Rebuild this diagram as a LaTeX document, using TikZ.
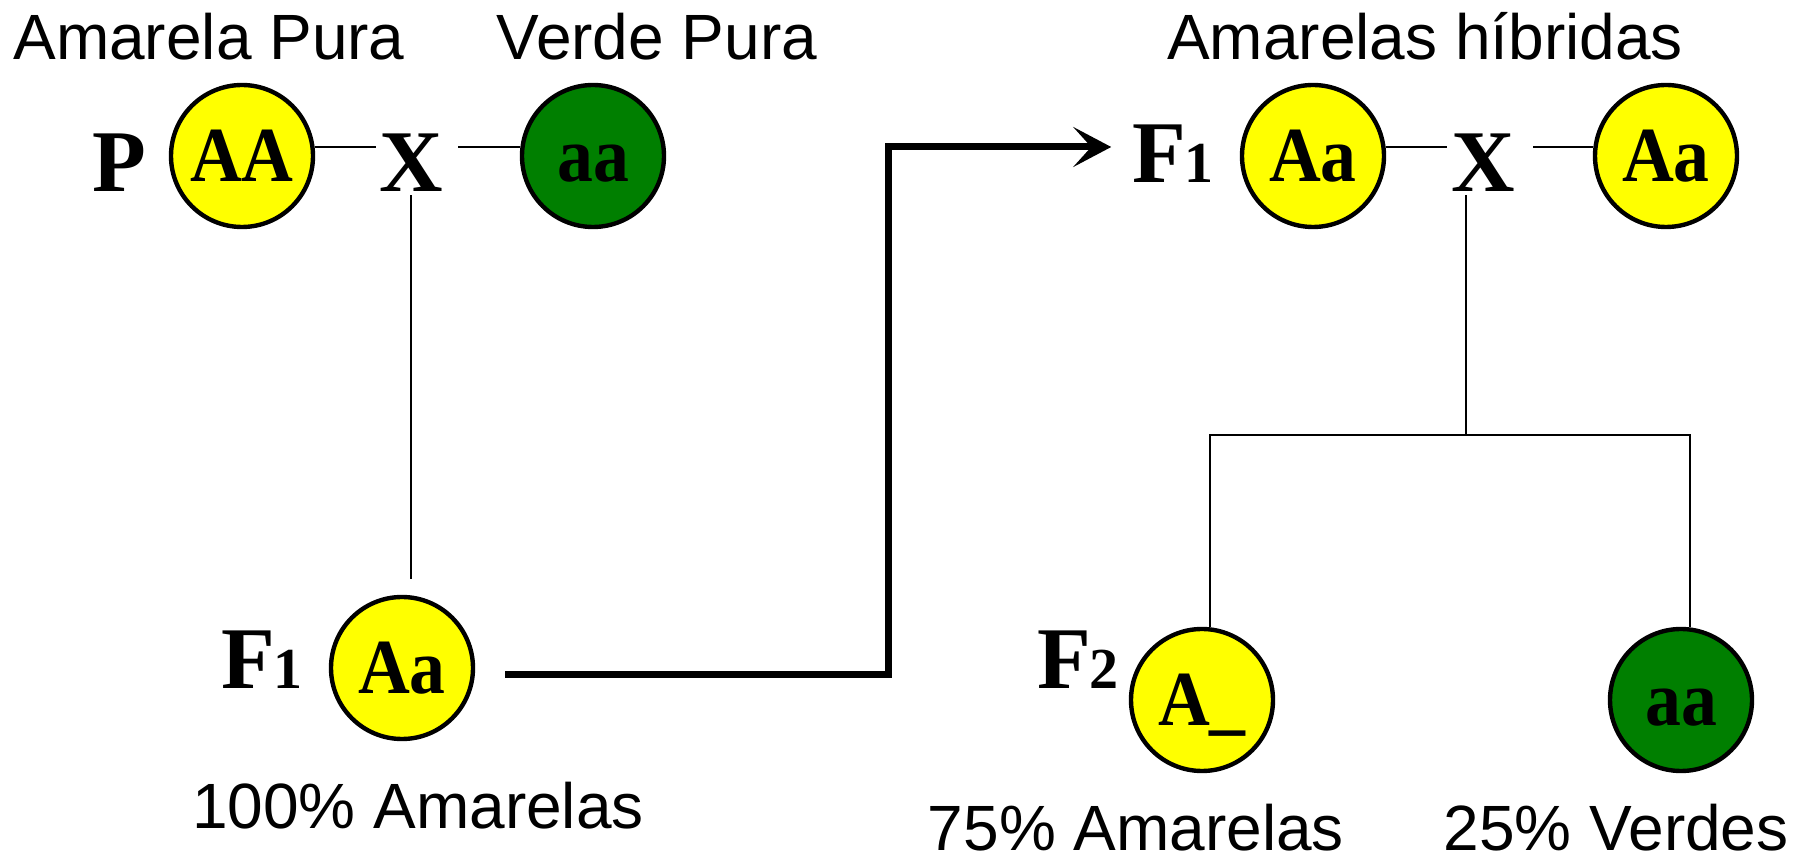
\documentclass[tikz,border=0pt]{standalone}
\usepackage{fontspec}
\setmainfont{Liberation Serif}
\setsansfont{Liberation Sans}
\usetikzlibrary{arrows.meta,calc}
\definecolor{pyellow}{HTML}{FFFF00}
\definecolor{pgreen}{HTML}{007F00}
\newcommand{\Fgen}[1]{F\kern-1pt{\fontsize{29}{29}\selectfont #1}}
\newcommand{\geno}[1]{\scalebox{0.92}[1]{#1}}
\tikzset{
  pea/.style={circle, draw=black, line width=2.2pt, minimum size=71pt, inner sep=0pt,
    font=\fontsize{39}{39}\selectfont\bfseries, text height=25.8pt, text depth=0pt},
  ypea/.style={pea, fill=pyellow},
  gpea/.style={pea, fill=pgreen},
  gen/.style={font=\fontsize{44}{44}\selectfont\bfseries, inner sep=0pt, anchor=base},
  caption/.style={font=\sffamily\fontsize{32}{32}\selectfont, inner sep=0pt, anchor=base},
  linkline/.style={line width=1pt},
  flow/.style={line width=3.5pt, -{Stealth[length=19pt,width=20pt,inset=9pt]}}
}
\begin{document}
\begin{tikzpicture}[x=0.5pt,y=-0.5pt]
\useasboundingbox (0,0) rectangle (1801,865);
% captions
\node[caption] (capAP) at (209,60) {Amarela Pura};
\node[caption] (capVP) at (657,60) {Verde Pura};
\node[caption] (capAH) at (1425,60) {Amarelas híbridas};
\node[caption] (cap100) at (418,829) {100\% Amarelas};
\node[caption] (cap75) at (1136,851) {75\% Amarelas};
\node[caption] (cap25) at (1616,851) {25\% Verdes};
% generation labels
\node[gen] (P) at (119,192) {P};
\node[gen] (X1) at (411,192) {X};
\node[gen] (F1a) at (262,689) {\Fgen{1}};
\node[gen] (F1b) at (1173,183) {\Fgen{1}};
\node[gen] (X2) at (1483,192) {X};
\node[gen] (F2) at (1078,689) {\Fgen{2}};
% peas
\node[ypea] (AA) at (242,156) {\geno{AA}};
\node[gpea] (aa1) at (593,156) {\geno{aa}};
\node[ypea] (Aa1) at (402,668) {\geno{Aa}};
\node[ypea] (Aa2) at (1313,156) {\geno{Aa}};
\node[ypea] (Aa3) at (1666,156) {\geno{Aa}};
\node[ypea] (A2) at (1202,700) {\geno{A\_}};
\node[gpea] (aa2) at (1681,700) {\geno{aa}};
% crosses
\draw[linkline] (AA.7) -- ([xshift=-1.5pt]X1.west |- AA.7);
\draw[linkline] ([xshift=7.5pt]X1.east |- aa1.173) -- (aa1.173);
\draw[linkline] ([yshift=-1.5pt]X1.south) -- ([yshift=8pt]Aa1.north -| X1.south);
\draw[linkline] (Aa2.7) -- ([xshift=-2pt]X2.west |- Aa2.7);
\draw[linkline] ([xshift=9pt]X2.east |- Aa3.173) -- (Aa3.173);
\coordinate (split) at (1466,435);
\draw[linkline] ([yshift=-1.5pt]X2.south -| split) -- (split);
\draw[linkline] ([xshift=4pt]A2.north) |- (split) -| ([xshift=4.5pt]aa2.north);
% flow arrow
\coordinate (bend) at (888,147);
\draw[flow] ([xshift=15pt,yshift=-3.5pt]Aa1.east) -| (bend) -- ([xshift=-10.5pt]F1b.west |- bend);
\end{tikzpicture}
\end{document}
